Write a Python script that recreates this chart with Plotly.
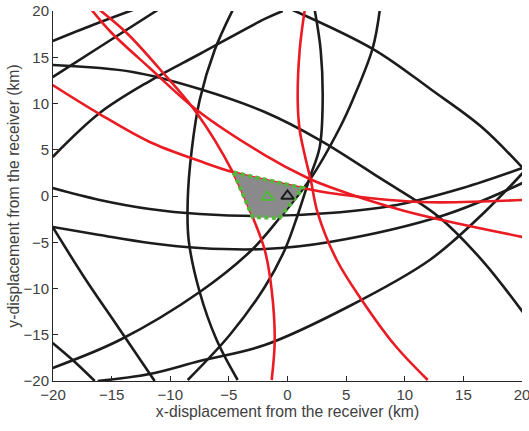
import plotly.graph_objects as go

# ---- black curves (x, y in km) ----
b1_x = [-20.03, -16.61, -13.2]
b1_y = [16.76, 18.49, 20.11]
b2_x = [-20.03, -16.02, -11.07]
b2_y = [12.86, 16.11, 20.11]
b3_x = [-20.03, -16.02, -11.75, -7.49, -1.94, -0.41]
b3_y = [4.22, 8.97, 12.43, 15.35, 19.14, 20.0]
b4_x = [0.44, 7.44, 12.30, 16.56, 20.06]
b4_y = [20.11, 15.78, 11.46, 7.46, 3.03]
b5_x = [-20.03, -16.02, -11.75, -7.49, -1.94, 3.6, 9.31, 14.94, 20.06]
b5_y = [0.86, -0.43, -1.41, -1.95, -2.16, -1.84, -0.97, 0.86, 3.03]
b7_x = [-20.03, -16.02, -11.75, -7.49, -1.94, 3.6, 13.41, 20.06]
b7_y = [-3.35, -4.22, -5.08, -5.62, -5.73, -4.97, -2.05, 1.41]
b8_x = [-16.19, -11.75, -7.49, -1.94, 5.30, 12.13, 16.82, 20.06]
b8_y = [-20.0, -19.24, -17.84, -16.11, -11.89, -6.92, -1.73, 2.49]
b12_x = [-20.03, -13.2, -7.49, -1.94, 2.75, 7.87, 12.81, 16.65, 20.06]
b12_y = [14.16, 13.41, 11.57, 9.08, 6.05, 1.95, -2.16, -7.03, -12.54]
b13_x = [7.87, 7.27, 5.56, 4.45, 2.06, -0.67, -3.05, -7.49, -14.31, -20.03]
b13_y = [20.11, 16.0, 10.38, 7.35, 2.05, -2.38, -5.84, -10.38, -15.57, -18.59]
b14_x = [-20.03, -17.30, -14.57, -11.33]
b14_y = [-3.35, -8.86, -13.95, -20.0]
b15_x = [-20.03, -18.23, -16.44]
b15_y = [-15.89, -17.84, -20.0]
b17_x = [-4.67, -6.21, -7.49, -8.17, -8.51, -8.43, -7.49, -6.04, -4.25]
b17_y = [20.11, 15.78, 10.38, 4.97, -0.43, -4.76, -10.38, -15.57, -19.89]
b18_x = [2.32, 2.83, 3.0, 2.75, 1.89, 0.87, -0.24, -1.94, -4.93, -8.51]
b18_y = [20.11, 15.78, 10.38, 5.3, 1.95, -2.05, -5.84, -9.84, -15.03, -19.89]

# ---- red curves ----
r1_x = [-16.02, -13.71, -10.90, -7.74, -4.67, -2.97, -1.94, -1.35, -1.09, -1.35]
r1_y = [20.11, 17.62, 13.73, 8.97, 2.59, -2.27, -5.84, -10.16, -15.57, -19.89]
r2_x = [-16.70, -14.99, -11.75, -7.74, -1.94, 1.72, 3.6, 9.99, 20.06]
r2_y = [20.11, 17.62, 13.84, 9.3, 4.43, 1.95, 0.97, -1.62, -4.43]
r3_x = [-20.03, -16.02, -11.75, -7.49, -4.67, 1.30, 3.6, 11.27, 20.06]
r3_y = [12.0, 8.86, 5.84, 3.78, 2.59, 0.86, 0.32, -0.65, -0.43]
r4_x = [1.47, 1.04, 0.87, 1.04, 1.47, 1.98, 2.58, 4.20, 6.33, 9.14, 11.96]
r4_y = [20.11, 15.78, 10.38, 7.14, 4.43, 1.73, -1.84, -6.92, -11.24, -16.11, -19.89]

# ---- feasible region polygon ----
poly_x = [-4.6, 1.30, -0.67, -2.97, -4.6]
poly_y = [2.55, 0.86, -2.38, -2.27, 2.55]

# ---- markers ----
est_x, est_y = [-1.7], [-0.1]
rcv_x, rcv_y = [0.0], [0.0]

tick_vals = [-20, -15, -10, -5, 0, 5, 10, 15, 20]

black_curves = [(b1_x, b1_y), (b2_x, b2_y), (b3_x, b3_y), (b4_x, b4_y), (b5_x, b5_y),
                (b7_x, b7_y), (b8_x, b8_y), (b12_x, b12_y), (b13_x, b13_y),
                (b14_x, b14_y), (b15_x, b15_y), (b17_x, b17_y), (b18_x, b18_y)]
red_curves = [(r1_x, r1_y), (r2_x, r2_y), (r3_x, r3_y), (r4_x, r4_y)]

BLACK = "#1c1c1c"
RED = "#ea1b22"
GREEN = "#55b83c"
FONT = "Liberation Sans, Arial, sans-serif"

fig = go.Figure()
for xs, ys in black_curves:
    fig.add_trace(go.Scatter(x=xs, y=ys, mode="lines",
                             line=dict(color=BLACK, width=2.6, shape="spline"),
                             hoverinfo="skip", showlegend=False))
for xs, ys in red_curves:
    fig.add_trace(go.Scatter(x=xs, y=ys, mode="lines",
                             line=dict(color=RED, width=2.6, shape="spline"),
                             hoverinfo="skip", showlegend=False))

fig.add_trace(go.Scatter(x=poly_x, y=poly_y, mode="lines", fill="toself",
                         fillcolor="#8a8a8c", line=dict(width=0),
                         hoverinfo="skip", showlegend=False))
fig.add_trace(go.Scatter(x=poly_x, y=poly_y, mode="lines",
                         line=dict(color=GREEN, width=4, dash="4px,3.5px"),
                         hoverinfo="skip", showlegend=False))
fig.add_trace(go.Scatter(x=est_x, y=est_y, mode="markers",
                         marker=dict(symbol="triangle-up-open", size=11,
                                     color=GREEN, line=dict(color=GREEN, width=2)),
                         hoverinfo="skip", showlegend=False))
fig.add_trace(go.Scatter(x=rcv_x, y=rcv_y, mode="markers",
                         marker=dict(symbol="triangle-up-open", size=11,
                                     color=BLACK, line=dict(color=BLACK, width=2)),
                         hoverinfo="skip", showlegend=False))

axis_common = dict(range=[-20, 20], tickmode="array", tickvals=tick_vals,
                   showgrid=False, zeroline=False, showline=True,
                   linecolor="#262626", linewidth=1, mirror=False,
                   ticks="inside", ticklen=5, tickcolor="#262626",
                   automargin=False, ticklabeloverflow="allow",
                   tickfont=dict(family=FONT, size=15, color="#404040"))

fig.update_layout(
    width=529, height=431,
    margin=dict(l=53, r=7, t=11, b=50),
    paper_bgcolor="white", plot_bgcolor="white",
    xaxis=dict(**axis_common,
               title=dict(text="x-displacement from the receiver (km)",
                          font=dict(family=FONT, size=15.7, color="#404040"),
                          standoff=4)),
    yaxis=dict(**axis_common,
               title=dict(text="y-displacement from the receiver (km)",
                          font=dict(family=FONT, size=15.7, color="#404040"),
                          standoff=0)),
)

# remove the default 8px page margin so the figure sits at the window's corner
fig.write_html("out.html", config={"displayModeBar": False},
               post_script="document.body.style.margin='0px';")
